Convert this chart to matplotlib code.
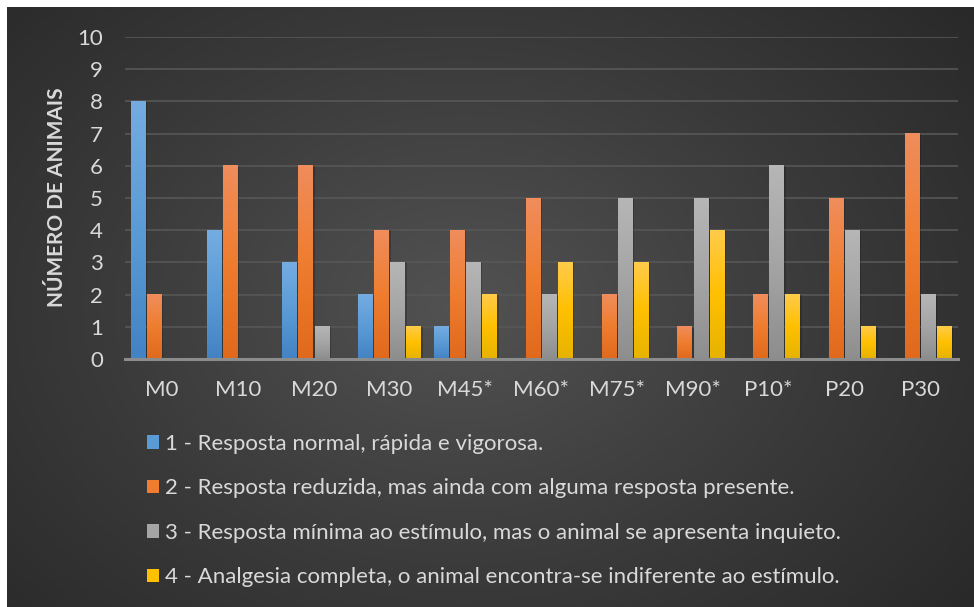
import matplotlib
matplotlib.use("Agg")
import matplotlib.pyplot as plt
from matplotlib.patches import Patch
from matplotlib.colors import LinearSegmentedColormap
import numpy as np

plt.rcParams['font.family'] = ['Lato', 'DejaVu Sans']

# --- data -----------------------------------------------------------------
momentos = ["M0", "M10", "M20", "M30", "M45*", "M60*", "M75*", "M90*", "P10*", "P20", "P30"]
escore_1 = [8, 4, 3, 2, 1, 0, 0, 0, 0, 0, 0]
escore_2 = [2, 6, 6, 4, 4, 5, 2, 1, 2, 5, 7]
escore_3 = [0, 0, 1, 3, 3, 2, 5, 5, 6, 4, 2]
escore_4 = [0, 0, 0, 1, 2, 3, 3, 4, 2, 1, 1]
legendas = [
    "1 - Resposta normal, rápida e vigorosa.",
    "2 - Resposta reduzida, mas ainda com alguma resposta presente.",
    "3 - Resposta mínima ao estímulo, mas o animal se apresenta inquieto.",
    "4 - Analgesia completa, o animal encontra-se indiferente ao estímulo.",
]
y_ticks = list(range(0, 11))

# top / middle / bottom tones for the bar gradients
tons = [
    ("#74ace2", "#5b9bd5", "#4383c4"),
    ("#f08d5c", "#ef7d2f", "#e0691c"),
    ("#b6b6b6", "#a5a5a5", "#8e8e8e"),
    ("#ffcb4a", "#ffc000", "#e6b300"),
]
texto = "#d9d9d9"

W, H = 974, 607
fig = plt.figure(figsize=(W / 100, H / 100), dpi=100)
fig.patch.set_facecolor("white")

# dark panel with a soft radial highlight
bg = fig.add_axes([7 / W, 0, 1 - 7 / W, 1 - 7 / H])
bg.set_axis_off()
gx, gy = np.meshgrid(np.linspace(0, 1, 400), np.linspace(0, 1, 250))
r = np.sqrt(((gx - 0.47) / 0.75) ** 2 + ((gy - 0.5) / 0.9) ** 2)
cinza = LinearSegmentedColormap.from_list("fundo", ["#525252", "#3a3a3a", "#252525"])
bg.imshow(np.clip(r, 0, 1), cmap=cinza, aspect="auto", extent=[0, 1, 0, 1], vmin=0, vmax=1)
bg.set_xlim(0, 1)
bg.set_ylim(0, 1)

ax = fig.add_axes([125 / W, (H - 359) / H, (958 - 125) / W, (359 - 37) / H])
ax.set_facecolor("none")

x = np.arange(len(momentos))
largura = 0.19
passo = 0.212
series = [escore_1, escore_2, escore_3, escore_4]

for i, (vals, cor) in enumerate(zip(series, tons)):
    pos = x + (i - 1.5) * passo
    # soft drop shadow
    ax.bar(pos + 0.025, vals, largura, color="black", alpha=0.2, zorder=2, linewidth=0)
    barras = ax.bar(pos, vals, largura, color="none", linewidth=0, zorder=3)
    cmap = LinearSegmentedColormap.from_list(f"s{i}", [cor[2], cor[1], cor[0]])
    grad = np.linspace(0, 1, 64).reshape(-1, 1)
    for b in barras:
        h = b.get_height()
        if h <= 0:
            continue
        x0 = b.get_x()
        ax.imshow(grad, cmap=cmap, origin="lower", aspect="auto", zorder=3,
                  extent=[x0, x0 + b.get_width(), 0, h])

ax.set_xlim(-0.49, 10.5)
ax.set_ylim(0, 10)
ax.set_yticks(y_ticks)
ax.set_xticks(x)
ax.set_xticklabels(momentos)
ax.grid(axis="y", color="#575757", linewidth=1.2, zorder=1)
ax.set_axisbelow(True)
for s in ["top", "right", "left"]:
    ax.spines[s].set_visible(False)
ax.spines["bottom"].set_color("#8c8c8c")
ax.spines["bottom"].set_linewidth(2.2)
ax.spines["bottom"].set_zorder(4)
ax.tick_params(axis="both", length=0, colors=texto, labelsize=16)
ax.tick_params(axis="y", pad=16)
ax.tick_params(axis="x", pad=15)

fig.text(57 / W, 1 - 197 / H, "NÚMERO DE ANIMAIS", rotation=90, ha="center", va="center",
         color=texto, fontsize=15, fontweight="bold")

handles = [Patch(facecolor=c[1], edgecolor="none") for c in tons]
fig.legend(handles, legendas, loc="upper left", bbox_to_anchor=(147 / W, 1 - 434 / H),
           frameon=False, fontsize=16, labelcolor=texto, handlelength=0.55, handleheight=0.55,
           handletextpad=0.28, labelspacing=1.1, borderpad=0, borderaxespad=0)

fig.savefig("out.png", dpi=100, facecolor=fig.get_facecolor())
